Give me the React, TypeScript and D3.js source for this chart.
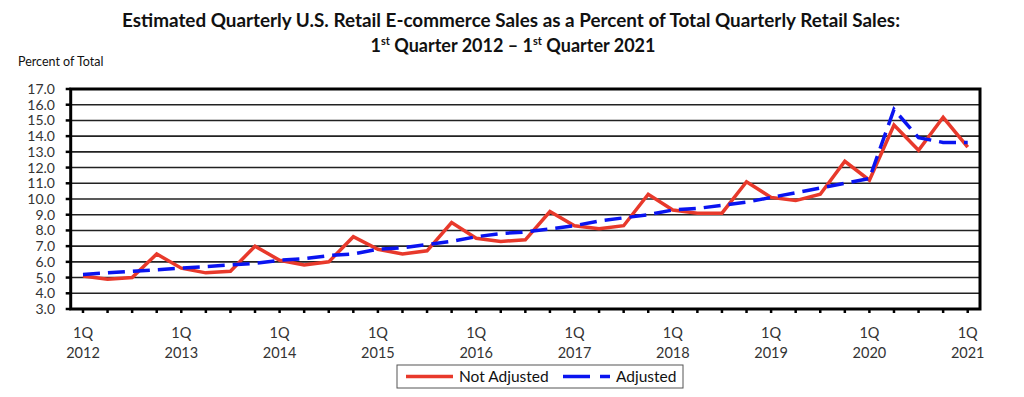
import * as React from 'react';
import * as d3 from 'd3';

const years = [2012, 2013, 2014, 2015, 2016, 2017, 2018, 2019, 2020, 2021];
const quarters = years.flatMap(y => (y === 2021 ? [`${y}Q1`] : [1, 2, 3, 4].map(q => `${y}Q${q}`)));

const notAdjusted = [
    5.1, 4.9, 5.0, 6.5,
    5.6, 5.3, 5.4, 7.0,
    6.1, 5.8, 6.0, 7.6,
    6.8, 6.5, 6.7, 8.5,
    7.5, 7.3, 7.4, 9.2,
    8.3, 8.1, 8.3, 10.3,
    9.3, 9.1, 9.1, 11.1,
    10.1, 9.9, 10.3, 12.4,
    11.2, 14.7, 13.1, 15.2,
    13.3,
];

const adjusted = [
    5.2, 5.3, 5.4, 5.5,
    5.6, 5.7, 5.8, 5.9,
    6.1, 6.2, 6.4, 6.5,
    6.8, 6.9, 7.1, 7.3,
    7.6, 7.8, 7.9, 8.1,
    8.3, 8.6, 8.8, 9.0,
    9.3, 9.4, 9.6, 9.8,
    10.1, 10.4, 10.7, 11.0,
    11.3, 15.7, 13.9, 13.6,
    13.6,
];

const yTicks = d3.range(3, 17.01, 1);

const RED = '#e8392b';
const BLUE = '#0a14f0';
const FONT = 'Lato, "Open Sans", sans-serif';

export default function App() {
    const left = 70.7;
    const right = 980;
    const top = 89;
    const bottom = 309;

    const x = d3.scaleBand<string>()
        .domain(quarters)
        .range([left, right]);
    const cx = (q: string) => (x(q) ?? 0) + x.bandwidth() / 2;
    const y = d3.scaleLinear()
        .domain([3, 17])
        .range([bottom, top]);

    const line = d3.line<number>()
        .x((_, i) => cx(quarters[i]))
        .y(d => y(d));

    const q1s = quarters.filter(q => q.endsWith('Q1'));

    return (
        <svg width={1024} height={397} style={{ position: 'absolute', left: 0, top: 0, background: '#fff' }}>
            <rect width={1024} height={397} fill="#fff" />
            {/* title */}
            <text x={511} y={27} textAnchor="middle" fontFamily={FONT} fontWeight="bold" fontSize={18}
                textLength={778} lengthAdjust="spacingAndGlyphs" fill="#111">
                Estimated Quarterly U.S. Retail E-commerce Sales as a Percent of Total Quarterly Retail Sales:
            </text>
            <text x={513} y={52} textAnchor="middle" fontFamily={FONT} fontWeight="bold" fontSize={18} fill="#111">
                1<tspan fontSize={11} dy={-7}>st</tspan><tspan dy={7}> Quarter 2012 – 1</tspan>
                <tspan fontSize={11} dy={-7}>st</tspan><tspan dy={7}> Quarter 2021</tspan>
            </text>
            <text x={18} y={66} fontFamily={FONT} fontSize={12.5} fill="#111">Percent of Total</text>

            {/* grid */}
            {yTicks.map(t => (
                <g key={t}>
                    <line x1={left} x2={right} y1={y(t)} y2={y(t)} stroke="#222" strokeWidth={1.6} />
                    <line x1={left - 5} x2={left} y1={y(t)} y2={y(t)} stroke="#000" strokeWidth={2.5} />
                    <text x={55} y={y(t) + 5} textAnchor="end" fontFamily={FONT} fontSize={14} fill="#333">
                        {t.toFixed(1)}
                    </text>
                </g>
            ))}

            {/* x ticks */}
            {quarters.map(q => (
                <line key={q} x1={cx(q)} x2={cx(q)} y1={bottom} y2={bottom + 4} stroke="#000" strokeWidth={2.5} />
            ))}
            {q1s.map(q => (
                <g key={q}>
                    <text x={cx(q)} y={338} textAnchor="middle" fontFamily={FONT} fontSize={14.5} fill="#333">1Q</text>
                    <text x={cx(q)} y={358} textAnchor="middle" fontFamily={FONT} fontSize={14.5} fill="#333">
                        {q.slice(0, 4)}
                    </text>
                </g>
            ))}

            {/* plot frame */}
            <rect x={left} y={top} width={right - left} height={bottom - top} fill="none" stroke="#000" strokeWidth={3} />

            {/* series */}
            <path d={line(notAdjusted) ?? ''} fill="none" stroke={RED} strokeWidth={3.5} strokeLinejoin="miter" />
            <path d={line(adjusted) ?? ''} fill="none" stroke={BLUE} strokeWidth={3.5} strokeDasharray="17 8" />

            {/* legend */}
            <rect x={397} y={365} width={286} height={23} fill="#fff" stroke="#555" strokeWidth={1} />
            <line x1={406} x2={453} y1={376.5} y2={376.5} stroke={RED} strokeWidth={3.5} />
            <text x={459} y={382} fontFamily={FONT} fontSize={15.5} fill="#111">Not Adjusted</text>
            <line x1={563} x2={610} y1={376.5} y2={376.5} stroke={BLUE} strokeWidth={3.5} strokeDasharray="27 10" />
            <text x={616} y={382} fontFamily={FONT} fontSize={15.5} fill="#111">Adjusted</text>
        </svg>
    );
}
